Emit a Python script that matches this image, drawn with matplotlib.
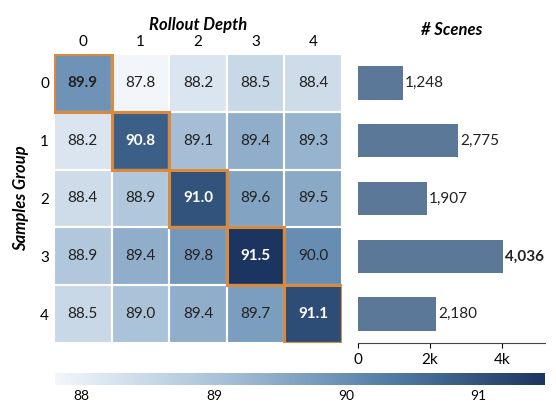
import numpy as np
import matplotlib.pyplot as plt
from matplotlib.colors import LinearSegmentedColormap
from matplotlib.patches import Rectangle

plt.rcParams['font.family'] = ['Lato', 'DejaVu Sans']

depths = ['0', '1', '2', '3', '4']
groups = ['0', '1', '2', '3', '4']
acc = np.array([
    [89.9, 87.8, 88.2, 88.5, 88.4],
    [88.2, 90.8, 89.1, 89.4, 89.3],
    [88.4, 88.9, 91.0, 89.6, 89.5],
    [88.9, 89.4, 89.8, 91.5, 90.0],
    [88.5, 89.0, 89.4, 89.7, 91.1],
])
scenes = [1248, 2775, 1907, 4036, 2180]

cmap = LinearSegmentedColormap.from_list('bl', ['#f2f6fa', '#a9c2d9', '#5680a8', '#1b3560'])
vmin, vmax = 87.8, 91.5

fig = plt.figure(figsize=(5.56, 4.05), dpi=100)
ax = fig.add_axes([54/556, 1-343/405, 288/556, 289/405])
im = ax.imshow(acc, cmap=cmap, vmin=vmin, vmax=vmax, aspect='auto')
n = len(groups)
for i in range(n):
    for j in range(n):
        v = acc[i, j]
        dark = (v - vmin) / (vmax - vmin) > 0.6
        ax.text(j, i, f'{v:.1f}', ha='center', va='center', fontsize=11,
                color='white' if dark else '#222222',
                fontweight='bold' if i == j else 'normal')
        ax.add_patch(Rectangle((j-0.5, i-0.5), 1, 1, fill=False, ec='white', lw=1.5))
for i in range(n):
    ax.add_patch(Rectangle((i-0.5, i-0.5), 1, 1, fill=False, ec='#d98a3d', lw=2.2, zorder=5))
ax.set_xticks(range(n))
ax.set_xticklabels(depths, fontsize=11)
ax.set_yticks(range(n))
ax.set_yticklabels(groups, fontsize=11)
ax.xaxis.tick_top()
ax.xaxis.set_label_position('top')
ax.tick_params(length=0)
ax.set_xlabel('Rollout Depth', fontsize=12, fontweight='bold', style='italic', labelpad=4)
ax.set_ylabel('Samples Group', fontsize=12, fontweight='bold', style='italic', labelpad=8)
for s in ax.spines.values():
    s.set_visible(False)

bx = fig.add_axes([358/556, 1-343/405, 187/556, 289/405])
y = np.arange(n)
bx.barh(y, scenes, height=0.58, color='#5b7898')
bx.set_ylim(n-0.5, -0.5)
bx.set_xlim(0, 5200)
mx = max(scenes)
for yi, s in zip(y, scenes):
    bx.text(s + 60, yi, f'{s:,}', va='center', fontsize=11,
            fontweight='bold' if s == mx else 'normal', color='#222222')
bx.set_xticks([0, 2000, 4000])
bx.set_xticklabels(['0', '2k', '4k'], fontsize=11)
bx.set_yticks([])
for k in ['top', 'right', 'left']:
    bx.spines[k].set_visible(False)
bx.spines['bottom'].set_color('#444444')
bx.set_title('# Scenes', fontsize=12, fontweight='bold', style='italic', pad=14)

cax = fig.add_axes([55/556, 1-385/405, 490/556, 12/405])
cb = fig.colorbar(im, cax=cax, orientation='horizontal')
cb.set_ticks([88, 89, 90, 91])
cb.ax.tick_params(labelsize=10, length=0)
cb.outline.set_visible(False)

fig.savefig('out.png', dpi=100)
